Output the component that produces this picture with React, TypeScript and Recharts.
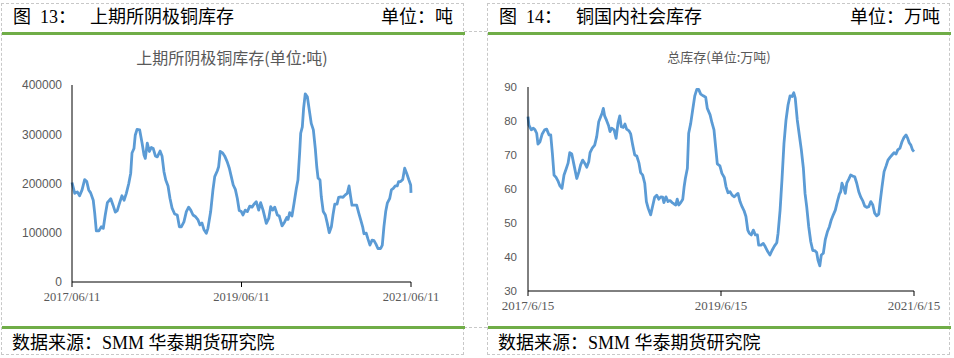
import { Line, LineChart, XAxis, YAxis } from "recharts";

// 上期所阴极铜库存 (吨), x = weeks since 2017/06/11
const shfeWeeks = [
  0, 1.7, 3.3, 4.7, 6.2, 7.8, 9.1, 10.3, 11.5, 13.1,
  14.0, 15.0, 16.6, 18.1, 19.3, 20.5, 21.8, 23.9, 25.3, 26.7,
  27.9, 29.4, 30.8, 32.1, 33.5, 35.0, 36.2, 37.0, 38.2, 39.0,
  40.1, 41.7, 43.2, 44.4, 45.2, 46.4, 47.7, 48.9, 50.1, 51.4,
  52.6, 54.3, 55.5, 56.7, 57.8, 59.2, 60.4, 61.7, 63.3, 64.9,
  66.2, 67.4, 69.0, 70.5, 71.9, 73.2, 74.6, 76.0, 77.7, 78.9,
  80.1, 81.4, 82.8, 83.8, 85.5, 86.9, 88.0, 89.6, 90.4, 91.4,
  92.9, 94.1, 95.7, 97.0, 98.2, 99.4, 100.7, 101.9, 103.1, 104.4,
  105.4, 106.8, 108.1, 109.6, 111.0, 112.2, 113.6, 115.1, 116.3, 117.8,
  119.8, 121.3, 122.5, 123.7, 125.0, 126.6, 127.8, 129.5, 131.1, 132.4,
  133.2, 134.2, 135.6, 136.9, 138.3, 139.3, 140.4, 141.0, 142.0, 142.8,
  143.8, 145.1, 146.3, 147.5, 148.8, 150.0, 150.9, 151.7, 152.9, 153.7,
  154.9, 156.2, 157.4, 158.6, 159.9, 160.9, 162.0, 163.4, 164.4, 165.7,
  167.1, 168.5, 169.7, 170.8, 171.8, 172.6, 173.9, 175.5, 176.8, 178.0,
  179.2, 180.0, 181.4, 182.5, 183.7, 185.0, 186.2, 187.4, 188.6, 190.3,
  191.3, 192.3, 193.4, 194.4, 195.9, 196.9, 198.1, 199.3, 200.5, 201.4,
  202.6, 203.9, 205.1, 206.3, 207.6, 208.8, 209,
];
const shfeStock = [
  202000, 180000, 183000, 175000, 187000, 208000, 204000, 187000, 181000, 166000,
  140000, 104000, 104000, 112000, 109000, 136000, 161000, 169000, 156000, 142000,
  145000, 161000, 175000, 166000, 180000, 200000, 221000, 262000, 271000, 298000,
  310000, 309000, 282000, 258000, 251000, 282000, 265000, 273000, 271000, 256000,
  254000, 266000, 256000, 224000, 207000, 195000, 170000, 150000, 138000, 136000,
  112000, 112000, 122000, 143000, 152000, 146000, 136000, 133000, 126000, 116000,
  120000, 106000, 99000, 109000, 143000, 187000, 214000, 226000, 234000, 265000,
  262000, 256000, 244000, 231000, 214000, 197000, 188000, 170000, 145000, 143000,
  136000, 146000, 143000, 154000, 152000, 158000, 163000, 146000, 161000, 146000,
  119000, 129000, 153000, 146000, 152000, 136000, 134000, 114000, 122000, 131000,
  127000, 141000, 134000, 160000, 190000, 207000, 265000, 302000, 315000, 353000,
  382000, 376000, 349000, 322000, 309000, 271000, 234000, 211000, 207000, 173000,
  143000, 136000, 119000, 100000, 112000, 136000, 158000, 158000, 172000, 173000,
  172000, 177000, 180000, 195000, 173000, 156000, 156000, 156000, 140000, 126000,
  112000, 98000, 99000, 87000, 75000, 85000, 84000, 77000, 68000, 68000,
  75000, 112000, 143000, 160000, 170000, 187000, 190000, 195000, 195000, 204000,
  204000, 208000, 231000, 221000, 208000, 197000, 181000,
];
const shfeTickWeeks = [0, 104.5, 209];
const shfeTickLabels = ["2017/06/11", "2019/06/11", "2021/06/11"];
const shfeYTicks = [0, 100000, 200000, 300000, 400000];

// 铜国内社会库存 (万吨), x = weeks since 2017/6/15
const socialWeeks = [
  0, 0.5, 1.8, 2.9, 3.8, 4.7, 5.4, 6.5, 7.7, 9.0,
  10.1, 11.4, 12.3, 13.2, 14.1, 15.2, 16.2, 17.3, 18.4, 19.5,
  20.6, 21.7, 22.6, 23.7, 24.9, 26.4, 27.6, 28.5, 29.6, 30.7,
  31.8, 32.9, 33.6, 34.8, 36.1, 37.2, 38.3, 39.4, 40.1, 40.8,
  41.5, 42.6, 43.7, 44.4, 45.3, 46.6, 47.7, 48.7, 49.7, 50.5,
  51.6, 52.5, 53.4, 54.7, 55.6, 56.7, 57.8, 58.9, 60.1, 61.0,
  62.1, 63.2, 64.1, 65.1, 66.4, 67.5, 68.6, 69.7, 70.8, 71.9,
  72.9, 73.6, 74.7, 75.8, 76.9, 78.0, 79.1, 80.0, 80.8, 81.6,
  82.7, 83.8, 84.5, 85.2, 86.3, 87.0, 88.1, 89.2, 90.3, 91.4,
  92.4, 93.5, 94.9, 96.2, 97.1, 98.6, 99.6, 100.7, 101.6, 102.5,
  103.9, 105.0, 106.3, 107.2, 108.3, 109.4, 110.5, 111.7, 112.6, 113.7,
  114.8, 115.9, 117.0, 118.0, 119.0, 119.8, 120.9, 122.0, 123.1, 124.2,
  124.9, 126.2, 127.4, 128.5, 129.8, 131.0, 132.1, 133.4, 134.7, 135.4,
  136.5, 137.5, 138.6, 139.7, 140.8, 141.9, 143.0, 143.9, 144.7, 145.8,
  146.9, 148.0, 149.1, 150.0, 150.9, 152.0, 153.1, 154.2, 155.2, 156.3,
  157.0, 158.0, 158.8, 159.9, 161.0, 162.1, 163.2, 164.2, 165.3, 166.4,
  167.5, 168.6, 169.3, 170.0, 171.1, 171.8, 172.6, 173.7, 174.7, 175.8,
  176.9, 178.0, 179.1, 180.2, 181.2, 182.3, 183.4, 184.5, 185.6, 186.7,
  187.7, 188.8, 189.9, 190.8, 191.7, 192.8, 193.9, 194.9, 196.0, 197.1,
  198.2, 199.3, 200.2, 201.4, 202.5, 203.6, 204.7, 205.6, 206.4, 207.3,
  208.2, 209.0,
];
const socialStock = [
  81.3, 78.8, 77.4, 77.9, 77.4, 76.4, 73.2, 73.9, 76.2, 77.4,
  77.6, 75.9, 75.9, 70.5, 64.1, 63.4, 62.4, 60.9, 60.2, 64.1,
  65.8, 67.6, 70.7, 70.3, 67.1, 63.1, 65.1, 67.1, 68.5, 67.6,
  66.4, 68.0, 70.7, 72.0, 72.9, 75.4, 79.8, 81.3, 82.3, 83.7,
  81.5, 80.1, 78.5, 76.9, 77.9, 77.4, 74.9, 79.3, 81.5, 78.3,
  78.1, 79.1, 77.6, 77.1, 76.2, 72.9, 70.0, 69.7, 67.6, 64.8,
  64.1, 61.7, 56.3, 54.3, 52.4, 55.0, 57.6, 58.2, 57.0, 57.7,
  57.6, 56.0, 57.7, 56.3, 56.6, 56.0, 55.6, 55.3, 57.0, 55.3,
  56.0, 57.0, 60.5, 63.1, 66.1, 76.4, 79.3, 83.4, 87.4, 89.3,
  89.3, 87.9, 87.4, 87.0, 83.7, 81.8, 79.5, 77.4, 72.4, 67.4,
  66.8, 64.6, 63.4, 60.7, 58.9, 59.2, 58.2, 57.7, 58.2, 58.7,
  56.3, 54.8, 53.6, 51.9, 47.9, 47.0, 46.5, 47.9, 46.5, 46.5,
  43.5, 43.5, 44.0, 43.0, 41.6, 40.6, 41.9, 43.2, 44.2, 47.0,
  53.8, 62.6, 73.4, 80.3, 84.7, 87.4, 87.2, 88.3, 86.7, 80.3,
  75.9, 71.5, 66.1, 58.7, 54.8, 48.9, 44.5, 41.9, 41.9, 41.3,
  39.1, 37.4, 40.6, 41.1, 45.2, 47.4, 48.9, 50.9, 52.4, 53.8,
  56.3, 58.5, 59.2, 61.7, 60.2, 58.7, 61.7, 62.9, 64.1, 63.8,
  63.6, 61.7, 59.2, 57.6, 56.6, 55.0, 54.6, 54.8, 56.3, 55.3,
  52.9, 52.1, 52.6, 56.8, 60.7, 65.1, 66.8, 68.5, 69.3, 70.0,
  70.7, 70.3, 71.5, 72.0, 73.9, 75.2, 75.9, 74.9, 73.6, 72.9,
  71.5, 71.0,
];
const socialTickWeeks = [0, 104.5, 209];
const socialTickLabels = ["2017/6/15", "2019/6/15", "2021/6/15"];
const socialYTicks = [30, 40, 50, 60, 70, 80, 90];

const shfeData = shfeWeeks.map((w, i) => ({ w, v: shfeStock[i] }));
const socialData = socialWeeks.map((w, i) => ({ w, v: socialStock[i] }));

const LINE = "#5B9BD5";
const GREEN = "#70AD47";
const DASH = "#C8C8C8";
const GREY = "#595959";
const SERIF = '"Liberation Serif", "Times New Roman", "Noto Sans CJK SC", serif';
const SANS = '"Liberation Sans", Arial, "Noto Sans CJK SC", sans-serif';
const CJK = '"Noto Sans CJK SC", "Liberation Sans", sans-serif';

const abs = (left: number, top: number, extra: React.CSSProperties = {}): React.CSSProperties => ({
  position: "absolute",
  left,
  top,
  whiteSpace: "pre",
  ...extra,
});

function Panel({ x, fig, title, unit, unitRight }: { x: number; fig: string; title: string; unit: string; unitRight: number }) {
  const head: React.CSSProperties = { fontSize: 18, lineHeight: "20px", color: "#000", fontFamily: SERIF };
  return (
    <>
      <div style={abs(x, 3, { width: 463, height: 352, border: `1px dashed ${DASH}`, boxSizing: "border-box" })} />
      <div style={abs(x + 12, 7, head)}>{fig}</div>
      <div style={abs(x + 89, 7, head)}>{title}</div>
      <div style={abs(0, 7, { ...head, left: undefined, right: 954 - unitRight })}>{unit}</div>
      <div style={abs(x + 1, 32, { width: 463, height: 3, background: GREEN })} />
      <div style={abs(x + 1, 326, { width: 463, height: 3, background: GREEN })} />
      <div style={abs(x + 11, 333, head)}>数据来源：SMM 华泰期货研究院</div>
    </>
  );
}

export default function App() {
  return (
    <div style={{ position: "absolute", left: 0, top: 0, width: 954, height: 358, background: "#fff", overflow: "hidden" }}>
      <div style={abs(464, 31, { width: 23, borderTop: `1px dashed ${DASH}` })} />
      <div style={abs(464, 327, { width: 23, borderTop: `1px dashed ${DASH}` })} />
      <Panel x={1} fig="图  13：" title="上期所阴极铜库存" unit="单位：吨" unitRight={453} />
      <Panel x={487} fig="图  14：" title="铜国内社会库存" unit="单位：万吨" unitRight={940} />

      <div style={abs(0, 47, { width: 464, textAlign: "center", fontSize: 16, lineHeight: "20px", color: GREY, fontFamily: CJK })}>
        上期所阴极铜库存(单位:吨)
      </div>
      <div style={abs(487, 48, { width: 464, textAlign: "center", fontSize: 13, lineHeight: "18px", color: GREY, fontFamily: CJK })}>
        总库存(单位:万吨)
      </div>

      <div style={abs(0, 0)}>
        <LineChart width={464} height={330} data={shfeData} margin={{ top: 85, right: 53, bottom: 18, left: 0 }}>
          <XAxis
            dataKey="w"
            type="number"
            domain={[0, 209]}
            ticks={shfeTickWeeks}
            tickFormatter={(v: number) => shfeTickLabels[shfeTickWeeks.indexOf(v)] ?? ""}
            height={30}
            tickSize={5}
            tickMargin={5}
            axisLine={{ stroke: "#000" }}
            tickLine={{ stroke: "#000" }}
            tick={{ fontSize: 12.5, fill: GREY, fontFamily: SERIF }}
            interval={0}
          />
          <YAxis
            domain={[0, 400000]}
            ticks={shfeYTicks}
            width={72}
            tickSize={0}
            tickMargin={10}
            axisLine={{ stroke: "#000" }}
            tickLine={false}
            tick={{ fontSize: 12, fill: GREY, fontFamily: SANS }}
            interval={0}
          />
          <Line type="linear" dataKey="v" stroke={LINE} strokeWidth={2.8} dot={false} isAnimationActive={false} strokeLinejoin="round" />
        </LineChart>
      </div>

      <div style={abs(477, 0)}>
        <LineChart width={477} height={330} data={socialData} margin={{ top: 87, right: 40, bottom: 9, left: 0 }}>
          <XAxis
            dataKey="w"
            type="number"
            domain={[0, 209]}
            ticks={socialTickWeeks}
            tickFormatter={(v: number) => socialTickLabels[socialTickWeeks.indexOf(v)] ?? ""}
            height={30}
            tickSize={5}
            tickMargin={5}
            axisLine={{ stroke: "#000" }}
            tickLine={{ stroke: "#000" }}
            tick={{ fontSize: 13, fill: GREY, fontFamily: SERIF }}
            interval={0}
          />
          <YAxis
            domain={[30, 90]}
            ticks={socialYTicks}
            width={51}
            tickSize={0}
            tickMargin={11}
            axisLine={{ stroke: "#000" }}
            tickLine={false}
            tick={{ fontSize: 11.5, fill: GREY, fontFamily: SANS }}
            interval={0}
          />
          <Line type="linear" dataKey="v" stroke={LINE} strokeWidth={2.8} dot={false} isAnimationActive={false} strokeLinejoin="round" />
        </LineChart>
      </div>
    </div>
  );
}
